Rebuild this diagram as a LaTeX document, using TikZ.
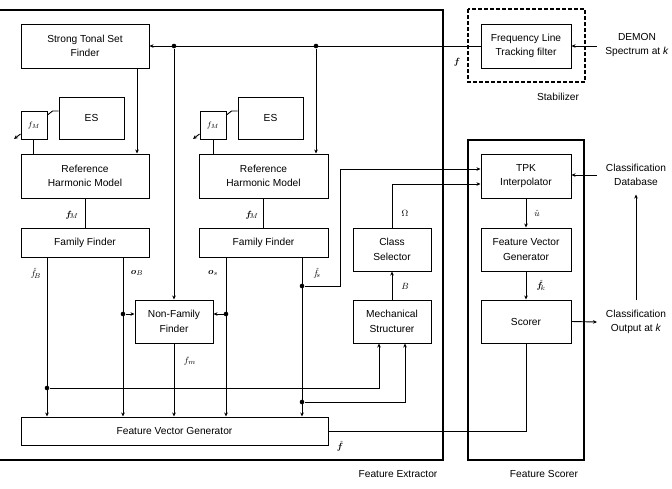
\documentclass[tikz,border=0pt]{standalone}
\usepackage{fontspec}
\usepackage{amsmath}
\usepackage{bm}
\setmainfont{Liberation Sans}
\usetikzlibrary{arrows.meta}
\begin{document}
\begin{tikzpicture}[x=1pt,y=-1pt,
  box/.style={draw, line width=1pt, inner sep=0pt, align=center,
    font=\fontsize{10.2}{14.5}\selectfont},
  wire/.style={line width=0.9pt},
  arr/.style={wire, -{Stealth[length=4pt,width=3.6pt]}},
  frame/.style={line width=2pt},
  dot/.style={circle, fill=black, inner sep=0pt, minimum size=4.6pt},
  lbl/.style={font=\fontsize{10.2}{14.5}\selectfont, align=center},
  mlbl/.style={font=\fontsize{9.5}{11}\selectfont, inner sep=0pt}]
\useasboundingbox (0,0) rectangle (672,488);

% ---------- frames ----------
\draw[frame] (0,10) -- (443,10) -- (443,460) -- (0,460);
\draw[frame] (468,140) rectangle (584,460);
\draw[frame, dashed, dash pattern=on 4pt off 2pt] (468,9) rectangle (585,82);
\node[lbl] (lfe) at (398,474) {Feature Extractor};
\node[lbl] (lfs) at (544,474) {Feature Scorer};
\node[lbl] (lst) at (558,97) {Stabilizer};

% ---------- blocks ----------
\node[box, minimum width=128pt, minimum height=44pt] (stsf) at (85,46) {Strong Tonal Set\\Finder};
\node[box, minimum width=65pt, minimum height=42pt] (es1) at (91.5,118) {ES};
\node[box, minimum width=26pt, minimum height=28pt] (fm1) at (34,125) {\fontsize{8}{9}\selectfont$f_M$};
\node[box, minimum width=128pt, minimum height=44pt] (rhm1) at (85,176) {Reference\\Harmonic Model};
\node[box, minimum width=128pt, minimum height=29pt] (ff1) at (85,242.5) {Family Finder};

\node[box, minimum width=65pt, minimum height=42pt] (es2) at (270.5,118) {ES};
\node[box, minimum width=26pt, minimum height=28pt] (fm2) at (213,125) {\fontsize{8}{9}\selectfont$f_M$};
\node[box, minimum width=129pt, minimum height=44pt] (rhm2) at (263.5,176) {Reference\\Harmonic Model};
\node[box, minimum width=129pt, minimum height=29pt] (ff2) at (263.5,242.5) {Family Finder};

\node[box, minimum width=78pt, minimum height=43pt] (nff) at (174,321.5) {Non-Family\\Finder};
\node[box, minimum width=78pt, minimum height=43pt] (ms) at (392,321.5) {Mechanical\\Structurer};
\node[box, minimum width=78pt, minimum height=43pt] (cs) at (392,249.5) {Class\\Selector};
\node[box, minimum width=307pt, minimum height=28pt] (fvg) at (174.5,431) {Feature Vector Generator};

\node[box, minimum width=90pt, minimum height=44pt] (flt) at (526,46) {Frequency Line\\Tracking filter};
\node[box, minimum width=90pt, minimum height=44pt] (tpk) at (526,176) {TPK\\Interpolator};
\node[box, minimum width=90pt, minimum height=43pt] (fvg2) at (526,249.5) {Feature Vector\\Generator};
\node[box, minimum width=90pt, minimum height=43pt] (sc) at (526,321.5) {Scorer};

% ---------- outside texts ----------
\node[lbl] (demon) at (637,45) {DEMON\\Spectrum at \textit{k}};
\node[lbl] (cdb) at (636,175) {Classification\\Database};
\node[lbl] (cout) at (636,322) {Classification\\Output at \textit{k}};

% ---------- junctions ----------
\node[dot] (dA) at (174,46) {};
\node[dot] (dB) at (316,46) {};
\node[dot] (dC) at (47,388) {};
\node[dot] (dD) at (123,314) {};
\node[dot] (dE) at (226,314) {};
\node[dot] (dF) at (302,286) {};
\node[dot] (dG) at (302,402) {};
\coordinate (inD) at (597,46);
\coordinate (inDB) at (597,175);
\coordinate (outC) at (597,322);
\coordinate (fm1o) at (14,139);
\coordinate (fm2o) at (193,139);

% ---------- stabilizer input / f bus ----------
\draw[arr] (inD) -- (flt.east);
\draw[arr] (flt.west) -- (stsf.east);
\draw[arr] (stsf.south -| 137,0) -- (rhm1.north -| 137,0);
\draw[arr] (dA) -- (nff.north);
\draw[arr] (dB) -- (rhm2.north -| dB);

% ---------- left branch ----------
\draw[wire] (es1.west |- 0,111) -- ++(-6,0) -- (fm1.east |- 0,115);
\draw[arr] (fm1.west |- 0,134) -- (fm1o);
\draw[wire] (fm1.south -| 33,0) -- (rhm1.north -| 33,0);
\draw[wire] (rhm1.south) -- (ff1.north);
\draw[arr] (ff1.south -| dC) -- (fvg.north -| dC);
\draw[arr] (ff1.south -| dD) -- (fvg.north -| dD);
\draw[arr] (dD) -- (nff.west |- dD);

% ---------- right branch ----------
\draw[wire] (es2.west |- 0,111) -- ++(-6,0) -- (fm2.east |- 0,115);
\draw[arr] (fm2.west |- 0,134) -- (fm2o);
\draw[wire] (fm2.south) -- (rhm2.north -| fm2.south);
\draw[wire] (rhm2.south) -- (ff2.north);
\draw[arr] (ff2.south -| dE) -- (fvg.north -| dE);
\draw[arr] (dE) -- (nff.east |- dE);
\draw[arr] (ff2.south -| dF) -- (fvg.north -| dF);
\draw[arr] (nff.south) -- (fvg.north -| nff.south);

% ---------- to mechanical structurer / TPK ----------
\draw[arr] (dC) -- (379,388) -- (ms.south -| 379,0);
\draw[arr] (dG) -- (405,402) -- (ms.south -| 405,0);
\draw[arr] (ms.north) -- (cs.south);
\draw[arr] (cs.north) -- (392,184) -- (tpk.west |- 0,184);
\draw[arr] (dF) -- (340,286) -- (340,169) -- (tpk.west |- 0,169);

% ---------- feature scorer ----------
\draw[arr] (inDB) -- (tpk.east |- inDB);
\draw[arr] (tpk.south) -- (fvg2.north);
\draw[arr] (fvg2.south) -- (sc.north);
\draw[arr] (sc.east) -- (outC);
\draw[arr, shorten <=6pt, shorten >=5pt] (cout.north) -- (cdb.south);
\draw[wire] (fvg.east) -- (526,431) -- (sc.south);

% ---------- signal labels ----------
\node[mlbl] (lf) at (457,62) {$\bm{f}$};
\node[mlbl] (lfm1) at (72,215) {$\bm{f}_{\!M}$};
\node[mlbl] (lfm2) at (252,215) {$\bm{f}_{\!M}$};
\node[mlbl] (lfb) at (36,273) {$\hat{f}_{\!B}$};
\node[mlbl] (lob) at (137,273) {$\bm{o}_B$};
\node[mlbl] (los) at (213,273) {$\bm{o}_s$};
\node[mlbl] (lfs2) at (317,273) {$\hat{f}_{\!s}$};
\node[mlbl] (lfn) at (190,361) {$f_{m}$};
\node[mlbl] (lB) at (405,286) {$B$};
\node[mlbl] (lO) at (405,213) {$\Omega$};
\node[mlbl] (lu) at (537,213) {$\hat{u}$};
\node[mlbl] (lfk) at (541,285) {$\hat{\bm{f}}_{\!k}$};
\node[mlbl] (lfh) at (340,446) {$\hat{\bm{f}}$};
\end{tikzpicture}
\end{document}
